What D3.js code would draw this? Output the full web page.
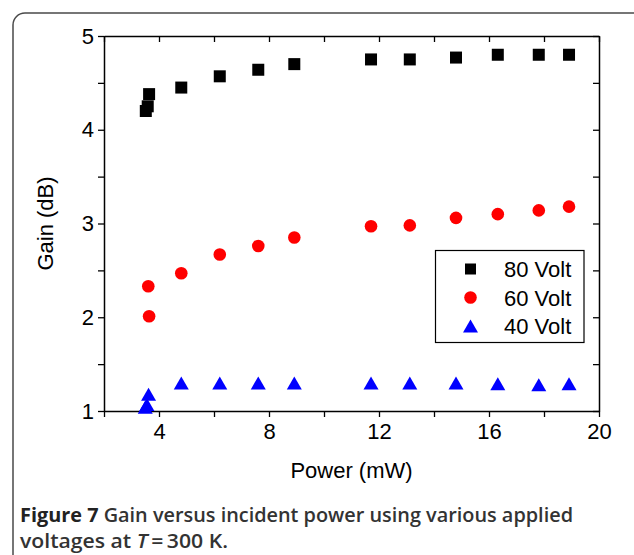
<!DOCTYPE html>
<html><head><meta charset="utf-8">
<script src="https://cdn.jsdelivr.net/npm/d3@7"></script>
<style>html,body{margin:0;padding:0;background:#fff;}svg{display:block;}</style>
</head><body>
<script>
const xTicks = [4, 8, 12, 16, 20];
const yTicks = [1, 2, 3, 4, 5];
const powerBlack = [3.52, 3.59, 3.64, 4.81, 6.21, 7.61, 8.92, 11.71, 13.12, 14.80, 16.32, 17.81, 18.91];
const gain80 = [4.20, 4.25, 4.38, 4.45, 4.57, 4.64, 4.70, 4.75, 4.75, 4.77, 4.80, 4.80, 4.80];
const powerRed = [3.61, 3.64, 4.81, 6.21, 7.61, 8.92, 11.71, 13.12, 14.80, 16.32, 17.81, 18.91];
const gain60 = [2.33, 2.01, 2.47, 2.67, 2.76, 2.85, 2.97, 2.98, 3.06, 3.10, 3.14, 3.18];
const powerBlue = [3.50, 3.56, 3.62, 4.81, 6.21, 7.61, 8.92, 11.71, 13.12, 14.80, 16.32, 17.81, 18.91];
const gain40 = [1.04, 1.07, 1.18, 1.30, 1.30, 1.30, 1.30, 1.30, 1.30, 1.30, 1.29, 1.28, 1.29];
const seriesNames = ["80 Volt", "60 Volt", "40 Volt"];

const W = 634, H = 555;
const svg = d3.select("body").append("svg").attr("width", W).attr("height", H);

// frame
svg.append("rect").attr("x", 13).attr("y", 13).attr("width", 640).attr("height", 600)
  .attr("rx", 12).attr("fill", "none").attr("stroke", "#4a4a4a").attr("stroke-width", 1.5);

const L = 104, R = 599, T = 36, B = 411;
const x = d3.scaleLinear().domain([2, 20]).range([L, R]);
const y = d3.scaleLinear().domain([1, 5]).range([B, T]);
const font = "'Liberation Sans', Arial, sans-serif";

const xAll = d3.range(2, 20.01, 2);
const yAll = d3.range(1, 5.01, 0.5);

function styleAxis(g) {
  g.select(".domain").attr("stroke", "#000").attr("stroke-width", 1.5);
  g.selectAll(".tick line").attr("stroke", "#000").attr("stroke-width", 1.3);
  g.selectAll("text").attr("font-family", font).attr("font-size", 22).attr("fill", "#000");
}
const fmt = d => xTicks.includes(d) ? d : "";
const fmtY = d => yTicks.includes(d) ? d : "";

const gx = svg.append("g").attr("transform", `translate(0,${B})`)
  .call(d3.axisBottom(x).tickValues(xAll).tickFormat(fmt).tickSize(6).tickPadding(6).tickSizeOuter(0));
styleAxis(gx);
const gxt = svg.append("g").attr("transform", `translate(0,${T})`)
  .call(d3.axisTop(x).tickValues(xAll).tickFormat("").tickSize(-6).tickSizeOuter(0));
styleAxis(gxt);
const gy = svg.append("g").attr("transform", `translate(${L},0)`)
  .call(d3.axisLeft(y).tickValues(yAll).tickFormat(fmtY).tickSize(6).tickPadding(4).tickSizeOuter(0));
styleAxis(gy);
const gyr = svg.append("g").attr("transform", `translate(${R},0)`)
  .call(d3.axisRight(y).tickValues(yAll).tickFormat("").tickSize(-6).tickSizeOuter(0));
styleAxis(gyr);

// axis titles
svg.append("text").attr("x", (L + R) / 2).attr("y", 478).attr("text-anchor", "middle")
  .attr("font-family", font).attr("font-size", 22).text("Power (mW)");
svg.append("text").attr("transform", `translate(53,${(T + B) / 2}) rotate(-90)`).attr("text-anchor", "middle")
  .attr("font-family", font).attr("font-size", 22).text("Gain (dB)");

// markers
const tri = (w, h) => `M0,${-h / 2}L${w / 2},${h / 2}L${-w / 2},${h / 2}Z`;
const plot = svg.append("g");
plot.selectAll(".sq").data(powerBlack.map((p, i) => [p, gain80[i]])).join("rect")
  .attr("x", d => x(d[0]) - 6).attr("y", d => y(d[1]) - 6).attr("width", 12).attr("height", 12).attr("fill", "#000");
plot.selectAll(".ci").data(powerRed.map((p, i) => [p, gain60[i]])).join("circle")
  .attr("cx", d => x(d[0])).attr("cy", d => y(d[1])).attr("r", 6.3).attr("fill", "#ff0000");
plot.selectAll(".tr").data(powerBlue.map((p, i) => [p, gain40[i]])).join("path")
  .attr("transform", d => `translate(${x(d[0])},${y(d[1])})`).attr("d", tri(15, 13)).attr("fill", "#0000ff");

// legend
const lg = svg.append("g");
lg.append("rect").attr("x", 435.5).attr("y", 250.5).attr("width", 148.5).attr("height", 92)
  .attr("fill", "#fff").attr("stroke", "#000").attr("stroke-width", 1.2);
const ly = [269, 297.5, 326];
lg.append("rect").attr("x", 465).attr("y", ly[0] - 5.5).attr("width", 11).attr("height", 11).attr("fill", "#000");
lg.append("circle").attr("cx", 470.5).attr("cy", ly[1]).attr("r", 6.3).attr("fill", "#ff0000");
lg.append("path").attr("transform", `translate(470.5,${ly[2]})`).attr("d", tri(15, 13)).attr("fill", "#0000ff");
seriesNames.forEach((n, i) => {
  lg.append("text").attr("x", 504).attr("y", ly[i] + 8).attr("font-family", font).attr("font-size", 22).text(n);
});

// caption
const cf = "'Open Sans', 'Noto Sans', sans-serif";
const c1 = svg.append("text").attr("x", 20).attr("y", 522).attr("font-family", cf).attr("font-size", 20)
  .attr("fill", "#333").attr("textLength", 553).attr("lengthAdjust", "spacingAndGlyphs");
c1.append("tspan").attr("font-weight", 700).attr("fill", "#222").text("Figure 7 ");
c1.append("tspan").attr("font-weight", 600).text("Gain versus incident power using various applied");
const c2 = svg.append("text").attr("x", 20).attr("y", 548).attr("font-family", cf).attr("font-size", 20)
  .attr("fill", "#333").attr("font-weight", 600).attr("textLength", 208).attr("lengthAdjust", "spacingAndGlyphs");
c2.append("tspan").text("voltages at ");
c2.append("tspan").attr("font-style", "italic").text("T");
c2.append("tspan").text("\u2009=\u2009300 K.");
</script>
</body></html>
